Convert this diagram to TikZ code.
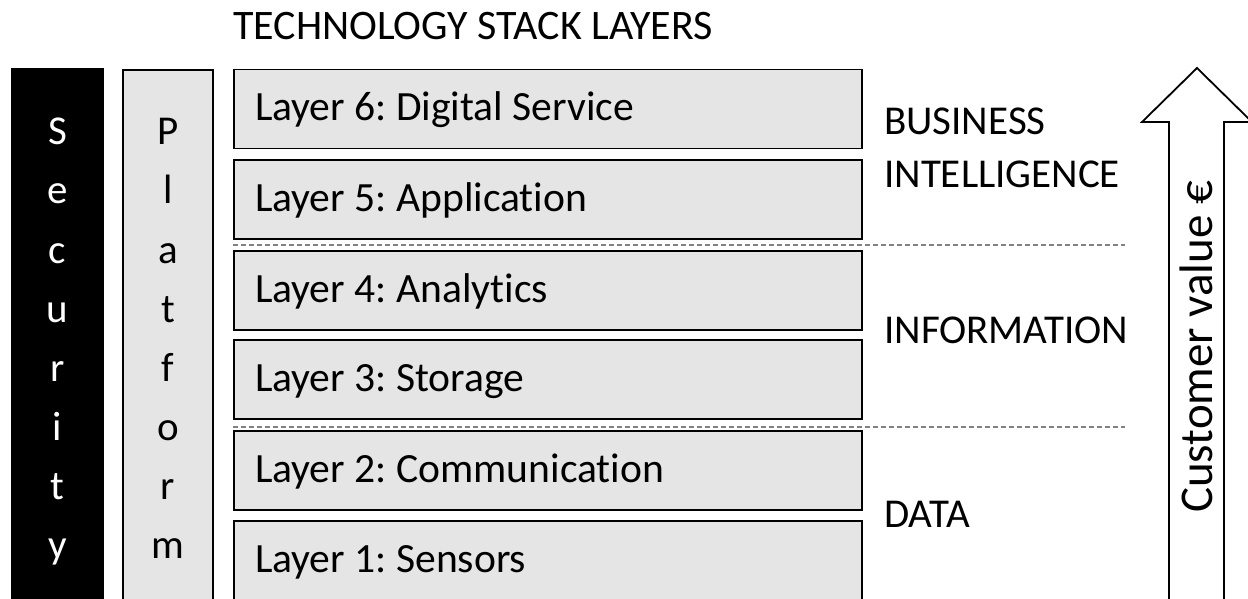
\documentclass[tikz,border=0pt]{standalone}
\usepackage{fontspec}
\setmainfont{Carlito}[Ligatures={NoCommon}]
\frenchspacing
\definecolor{boxgray}{RGB}{229,229,229}
\definecolor{sepgray}{RGB}{128,128,128}
\begin{document}
\begin{tikzpicture}[x=1pt,y=-1pt,
  bigfont/.style={font=\fontsize{41}{49}\selectfont},
  lbl/.style={bigfont, inner sep=0pt, anchor=base west},
  letter/.style={bigfont, inner sep=0pt, anchor=base},
  layerbox/.style={draw=black, line width=1.8pt, fill=boxgray,
    font=\fontsize{41.6}{50}\selectfont,
    inner xsep=21pt, inner ysep=0pt, text width=586pt, align=flush left,
    text height=28pt, text depth=4pt, minimum height=79pt},
  column/.style={line width=1.8pt},
  sepline/.style={draw=sepgray, line width=1.2pt, dash pattern=on 5pt off 3pt},
  valuearrow/.style={draw=black, line width=1.8pt, fill=white, line join=miter}]
\useasboundingbox (0,0) rectangle (1248,599);
\clip (0,0) rectangle (1248,599);

% title
\node[lbl, font=\fontsize{42}{50}\selectfont] (title) at (233,40) {TECHNOLOGY STACK LAYERS};

% security and platform columns
\fill[black] (11,68) rectangle (104,620);
\draw[column, fill=boxgray] (123,70) rectangle (213,620);
\foreach \ch [count=\i] in {S,e,c,u,r,i,t,y}
  \node[letter, text=white] (sec\i) at (57.5,{145+59*(\i-1)}) {\ch};
\foreach \ch [count=\i] in {P,l,a,t,f,o,r,m}
  \node[letter] (plat\i) at (168,{145+59*(\i-1)}) {\ch};

% stack layers
\node[layerbox] (L6) at (548,109)   {Layer 6: Digital Service};
\node[layerbox] (L5) at (548,199.5) {Layer 5: Application};
\node[layerbox] (L4) at (548,290.5) {Layer 4: Analytics};
\node[layerbox] (L3) at (548,379.5) {Layer 3: Storage};
\node[layerbox] (L2) at (548,470.5) {Layer 2: Communication};
\node[layerbox] (L1) at (548,560.5) {Layer 1: Sensors};

% group separators
\coordinate (s1a) at (233,245);
\coordinate (s1b) at (1125,245);
\coordinate (s2a) at (233,427);
\coordinate (s2b) at (1125,427);
\draw[sepline] (s1a) -- (s1b);
\draw[sepline] (s2a) -- (s2b);

% group labels
\node[lbl] (biz1) at (884,135) {BUSINESS};
\node[lbl] (biz2) at (884,187) {INTELLIGENCE};
\node[lbl] (info) at (884,343) {INFORMATION};
\node[lbl] (data) at (884,527) {DATA};

% customer value arrow
\draw[valuearrow] (1169,620) -- (1169,122) -- (1142,122) -- (1197,68)
  -- (1252,122) -- (1224,122) -- (1224,620) -- cycle;
\node[font=\fontsize{47}{56}\selectfont, inner sep=0pt, anchor=base west, rotate=90]
  (value) at (1212,513) {Customer value €};
\end{tikzpicture}
\end{document}
